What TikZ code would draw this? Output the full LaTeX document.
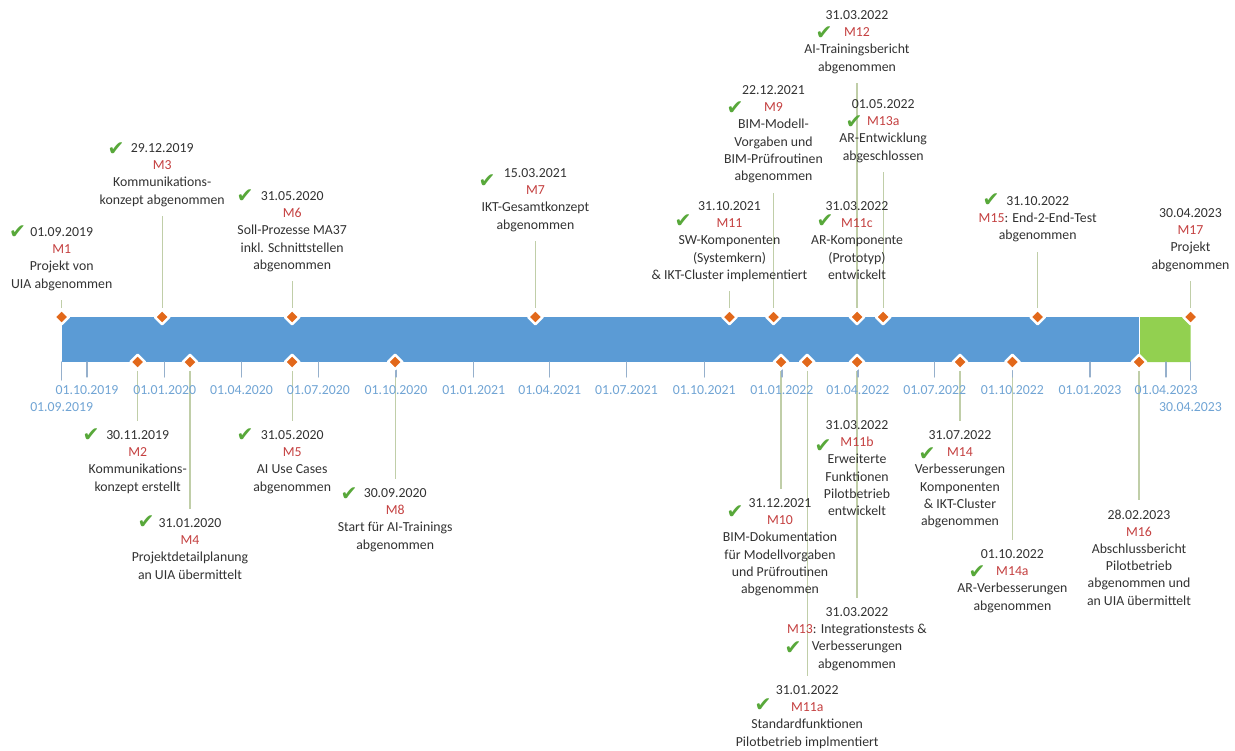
\documentclass[tikz,border=0pt]{standalone}
\usepackage{fontspec}
\setmainfont{Carlito}
\newfontfamily\checkfont{DejaVu Sans}
\usepackage{tikz}
\usepackage{color}
\usetikzlibrary{shapes.geometric}
\definecolor{barblue}{RGB}{91,155,213}
\definecolor{bargreen}{RGB}{146,208,80}
\definecolor{msorange}{RGB}{226,104,26}
\definecolor{msred}{RGB}{196,64,64}
\definecolor{msgreen}{RGB}{88,168,58}
\definecolor{msline}{RGB}{192,206,168}
\definecolor{tickc}{RGB}{150,176,204}
\definecolor{datec}{RGB}{112,164,212}
\definecolor{txtc}{RGB}{50,50,50}
\pgfdeclarelayer{background}
\pgfsetlayers{background,main}
\newcommand{\mcode}[1]{\textcolor{msred}{#1}}
\tikzset{
  ms/.style={diamond,fill=msorange,draw=white,line width=1.4pt,inner sep=0pt,minimum size=0.31cm},
  lab/.style={align=center,text=txtc,inner sep=0pt,outer sep=0pt,anchor=north,font=\fontsize{7.85}{9.8}\selectfont},
  ok/.style={text=msgreen,inner sep=0pt,font=\checkfont\fontsize{11.5}{11.5}\selectfont},
  conn/.style={color=msline,line width=0.75pt,shorten >=5.5pt},
  qtick/.style={color=tickc,line width=0.7pt},
  qlab/.style={text=datec,inner sep=0pt,font=\fontsize{7.85}{9.8}\selectfont}
}
\begin{document}
\begin{tikzpicture}[line cap=round,line join=round,x=0.02cm,y=-0.02cm]
\useasboundingbox (0,0) rectangle (1235,751);
\fill[barblue] (61.7,317) rectangle (1139,362);
\fill[bargreen] (1139,317) -- (1182,317) -- (1190.5,325.5) -- (1190.5,362) -- (1139,362) -- cycle;
\draw[white,line width=0.4pt] (1139,317) -- (1139,362);

\draw[qtick] (61.7,362) -- (61.7,380);
\draw[qtick] (87,362) -- (87,377);
\draw[qtick] (164.7,362) -- (164.7,377);
\draw[qtick] (241.5,362) -- (241.5,377);
\draw[qtick] (318.4,362) -- (318.4,377);
\draw[qtick] (396,362) -- (396,377);
\draw[qtick] (473.7,362) -- (473.7,377);
\draw[qtick] (549.7,362) -- (549.7,377);
\draw[qtick] (626.5,362) -- (626.5,377);
\draw[qtick] (704.2,362) -- (704.2,377);
\draw[qtick] (781.9,362) -- (781.9,377);
\draw[qtick] (857.9,362) -- (857.9,377);
\draw[qtick] (934.7,362) -- (934.7,377);
\draw[qtick] (1012.4,362) -- (1012.4,377);
\draw[qtick] (1090,362) -- (1090,377);
\draw[qtick] (1166.1,362) -- (1166.1,377);
\draw[qtick] (1190.5,362) -- (1190.5,380);

\draw (87,390) node[qlab] (q1) {01.10.2019};
\draw (164.7,390) node[qlab] (q2) {01.01.2020};
\draw (241.5,390) node[qlab] (q3) {01.04.2020};
\draw (318.4,390) node[qlab] (q4) {01.07.2020};
\draw (396,390) node[qlab] (q5) {01.10.2020};
\draw (473.7,390) node[qlab] (q6) {01.01.2021};
\draw (549.7,390) node[qlab] (q7) {01.04.2021};
\draw (626.5,390) node[qlab] (q8) {01.07.2021};
\draw (704.2,390) node[qlab] (q9) {01.10.2021};
\draw (781.9,390) node[qlab] (q10) {01.01.2022};
\draw (857.9,390) node[qlab] (q11) {01.04.2022};
\draw (934.7,390) node[qlab] (q12) {01.07.2022};
\draw (1012.4,390) node[qlab] (q13) {01.10.2022};
\draw (1090,390) node[qlab] (q14) {01.01.2023};
\draw (1166.1,390) node[qlab] (q15) {01.04.2023};
\draw (61.7,407) node[qlab] (qstart) {01.09.2019};
\draw (1190.5,407) node[qlab] (qend) {30.04.2023};

\node[ms] (d1) at (61.7,317) {};
\node[ms] (d3) at (162.2,317) {};
\node[ms] (d6) at (292.2,317) {};
\node[ms] (d7) at (535.4,317) {};
\node[ms] (d11) at (729.5,317) {};
\node[ms] (d9) at (773.5,317) {};
\node[ms] (d12) at (857,317) {};
\node[ms] (d13a) at (883.2,317) {};
\node[ms] (d15) at (1037.7,317) {};
\node[ms] (d17) at (1190.5,317) {};
\node[ms] (d2) at (137.7,362) {};
\node[ms] (d4) at (190,362) {};
\node[ms] (d5) at (292.2,362) {};
\node[ms] (d8) at (395.2,362) {};
\node[ms] (d10) at (781,362) {};
\node[ms] (d11a) at (807.2,362) {};
\node[ms] (d13) at (857,362) {};
\node[ms] (d14) at (960,362) {};
\node[ms] (d14a) at (1012.4,362) {};
\node[ms] (d16) at (1139,362) {};

\draw (61.7,227.6) node[lab] (m1) {01.09.2019\\\mcode{M1}\\Projekt von\\UIA abgenommen};
\draw (162.2,143.6) node[lab] (m3) {29.12.2019\\\mcode{M3}\\Kommunikations-\\konzept abgenommen};
\draw (292.2,191.6) node[lab] (m6) {31.05.2020\\\mcode{M6}\\Soll-Prozesse MA37\\inkl. Schnittstellen\\abgenommen};
\draw (535.4,168.6) node[lab] (m7) {15.03.2021\\\mcode{M7}\\IKT-Gesamtkonzept\\abgenommen};
\draw (729.5,201.6) node[lab] (m11) {31.10.2021\\\mcode{M11}\\SW-Komponenten\\(Systemkern)\\\& IKT-Cluster implementiert};
\draw (773.5,85.6) node[lab] (m9) {22.12.2021\\\mcode{M9}\\BIM-Modell-\\Vorgaben und\\BIM-Prüfroutinen\\abgenommen};
\draw (857,10.6) node[lab] (m12) {31.03.2022\\\mcode{M12}\\AI-Trainingsbericht\\abgenommen};
\draw (883.2,99.6) node[lab] (m13a) {01.05.2022\\\mcode{M13a}\\AR-Entwicklung\\abgeschlossen};
\draw (857,201.6) node[lab] (m11c) {31.03.2022\\\mcode{M11c}\\AR-Komponente\\(Prototyp)\\entwickelt};
\draw (1037.7,196.6) node[lab] (m15) {31.10.2022\\\mcode{M15}: End-2-End-Test\\abgenommen};
\draw (1190.5,208.6) node[lab] (m17) {30.04.2023\\\mcode{M17}\\Projekt\\abgenommen};
\draw (137.7,430.6) node[lab] (m2) {30.11.2019\\\mcode{M2}\\Kommunikations-\\konzept erstellt};
\draw (190,518.6) node[lab] (m4) {31.01.2020\\\mcode{M4}\\Projektdetailplanung\\an UIA übermittelt};
\draw (292.2,430.6) node[lab] (m5) {31.05.2020\\\mcode{M5}\\AI Use Cases\\abgenommen};
\draw (395.2,488.6) node[lab] (m8) {30.09.2020\\\mcode{M8}\\Start für AI-Trainings\\abgenommen};
\draw (780,498.6) node[lab] (m10) {31.12.2021\\\mcode{M10}\\BIM-Dokumentation\\für Modellvorgaben\\und Prüfroutinen\\abgenommen};
\draw (857,420.6) node[lab] (m11b) {31.03.2022\\\mcode{M11b}\\Erweiterte\\Funktionen\\Pilotbetrieb\\entwickelt};
\draw (960,430.6) node[lab] (m14) {31.07.2022\\\mcode{M14}\\Verbesserungen\\Komponenten\\\& IKT-Cluster\\abgenommen};
\draw (1012.4,549.6) node[lab] (m14a) {01.10.2022\\\mcode{M14a}\\AR-Verbesserungen\\abgenommen};
\draw (1139,509.6) node[lab] (m16) {28.02.2023\\\mcode{M16}\\Abschlussbericht\\Pilotbetrieb\\abgenommen und\\an UIA übermittelt};
\draw (857,607.6) node[lab] (m13) {31.03.2022\\\mcode{M13}: Integrationstests \&\\Verbesserungen\\abgenommen};
\draw (807.2,685.6) node[lab] (m11a) {31.01.2022\\\mcode{M11a}\\Standardfunktionen\\Pilotbetrieb implmentiert};

\draw (17.5,232) node[ok] (c1) {✔};
\draw (116,149) node[ok] (c3) {✔};
\draw (245,196) node[ok] (c6) {✔};
\draw (487,181) node[ok] (c7) {✔};
\draw (683,221) node[ok] (c11) {✔};
\draw (735,108) node[ok] (c9) {✔};
\draw (824,33) node[ok] (c12) {✔};
\draw (854,122) node[ok] (c13a) {✔};
\draw (825,221) node[ok] (c11c) {✔};
\draw (991,200) node[ok] (c15) {✔};
\draw (91,435) node[ok] (c2) {✔};
\draw (146,522) node[ok] (c4) {✔};
\draw (245,435) node[ok] (c5) {✔};
\draw (349,494) node[ok] (c8) {✔};
\draw (735,512) node[ok] (c10) {✔};
\draw (823,446) node[ok] (c11b) {✔};
\draw (927,454) node[ok] (c14) {✔};
\draw (977,572) node[ok] (c14a) {✔};
\draw (793,648) node[ok] (c13) {✔};
\draw (763,705) node[ok] (c11a) {✔};

\begin{pgfonlayer}{background}
\draw[conn] (d1) -- (d1 |- m1.south);
\draw[conn] (d3) -- (d3 |- m3.south);
\draw[conn] (d6) -- (d6 |- m6.south);
\draw[conn] (d7) -- (d7 |- m7.south);
\draw[conn] (d11) -- (d11 |- m11.south);
\draw[conn] (d9) -- (d9 |- m9.south);
\draw[conn] (d12) -- (d12 |- m12.south);
\draw[conn] (d13a) -- (d13a |- m13a.south);
\draw[conn] (d15) -- (d15 |- m15.south);
\draw[conn] (d17) -- (d17 |- m17.south);
\draw[conn] (d2) -- (d2 |- m2.north);
\draw[conn] (d4) -- (d4 |- m4.north);
\draw[conn] (d5) -- (d5 |- m5.north);
\draw[conn] (d8) -- (d8 |- m8.north);
\draw[conn] (d10) -- (d10 |- m10.north);
\draw[conn] (d11a) -- (d11a |- m11a.north);
\draw[conn] (d13) -- (d13 |- m13.north);
\draw[conn] (d14) -- (d14 |- m14.north);
\draw[conn] (d14a) -- (d14a |- m14a.north);
\draw[conn] (d16) -- (d16 |- m16.north);
\end{pgfonlayer}
\end{tikzpicture}
\end{document}
